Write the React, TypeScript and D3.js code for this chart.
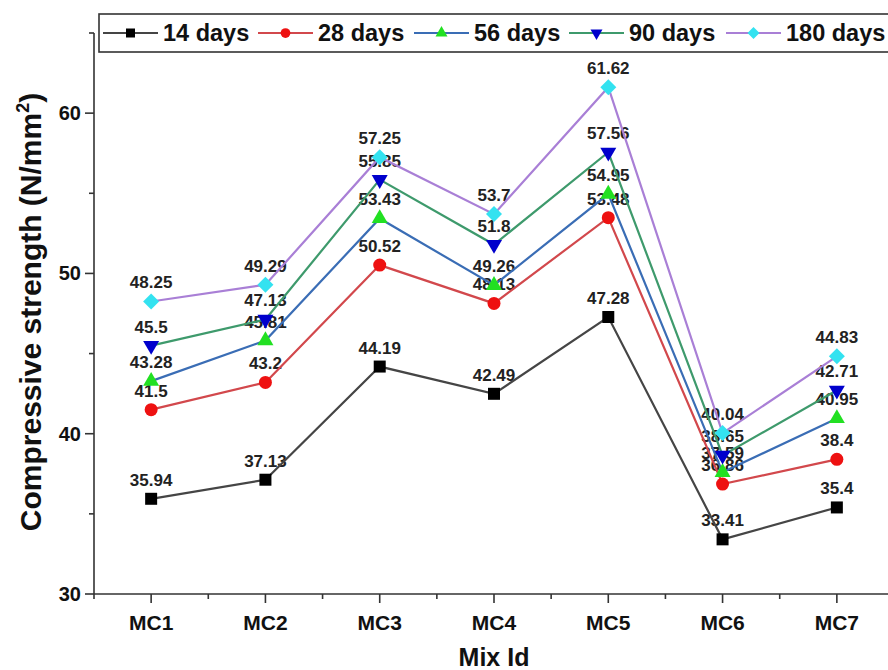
import React from "react";
import * as d3 from "d3";

const categories = ["MC1", "MC2", "MC3", "MC4", "MC5", "MC6", "MC7"];
const days14 = [35.94, 37.13, 44.19, 42.49, 47.28, 33.41, 35.4];
const days28 = [41.5, 43.2, 50.52, 48.13, 53.48, 36.86, 38.4];
const days56 = [43.28, 45.81, 53.43, 49.26, 54.95, 37.59, 40.95];
const days90 = [45.5, 47.13, 55.85, 51.8, 57.56, 38.65, 42.71];
const days180 = [48.25, 49.29, 57.25, 53.7, 61.62, 40.04, 44.83];
const seriesNames = ["14 days", "28 days", "56 days", "90 days", "180 days"];
const yTicks = [30, 40, 50, 60];
const yMinorTicks = [35, 45, 55, 65];

const W = 888;
const H = 670;
const FONT = "'Liberation Sans', Arial, sans-serif";

// line colour / marker colour per series, Origin style
const styles = [
  { line: "#454545", fill: "#000000", shape: "square", size: 12 },
  { line: "#d2484c", fill: "#ee1111", shape: "circle", size: 13 },
  { line: "#3a6db5", fill: "#22e022", shape: "up", size: 16 },
  { line: "#3e9a6c", fill: "#0000cc", shape: "down", size: 16 },
  { line: "#a97fd6", fill: "#33e2f0", shape: "diamond", size: 16 },
];

const symbolPath = (shape: string, s: number) => {
  if (shape === "square") return d3.symbol(d3.symbolSquare, s * s)() as string;
  if (shape === "circle") return d3.symbol(d3.symbolCircle, (Math.PI * s * s) / 4)() as string;
  if (shape === "diamond") return d3.symbol(d3.symbolSquare, (s * s) / 2)() as string;
  return d3.symbol(d3.symbolTriangle, (Math.sqrt(3) / 4) * s * s)() as string;
};
const symbolRotate = (shape: string) =>
  shape === "down" ? 180 : shape === "diamond" ? 45 : 0;

export default function App() {
  const data = [days14, days28, days56, days90, days180];

  const x = d3.scaleBand().domain(categories).range([94, 894]);
  const cx = (c: string) => (x(c) as number) + x.bandwidth() / 2;
  const y = d3.scaleLinear().domain([30, 65]).range([594, 33]);

  const line = d3
    .line<number>()
    .x((_, i) => cx(categories[i]))
    .y((d) => y(d));

  // legend layout
  const legendX = [103, 258, 414, 569, 726];

  return (
    <svg
      width={W}
      height={H}
      style={{ position: "absolute", left: 0, top: 0, background: "#fff" }}
      fontFamily={FONT}
    >
      <rect width={W} height={H} fill="#fff" />

      {/* data labels */}
      {data.map((vals, si) =>
        vals.map((v, i) => (
          <text
            key={`l${si}-${i}`}
            x={cx(categories[i])}
            y={y(v) - 13}
            textAnchor="middle"
            fontSize={17}
            fontWeight="bold"
            fill="#222"
          >
            {v}
          </text>
        ))
      )}

      {/* lines */}
      {data.map((vals, si) => (
        <path
          key={`p${si}`}
          d={line(vals) as string}
          fill="none"
          stroke={styles[si].line}
          strokeWidth={2.2}
        />
      ))}

      {/* markers */}
      {data.map((vals, si) =>
        vals.map((v, i) => (
          <path
            key={`m${si}-${i}`}
            d={symbolPath(styles[si].shape, styles[si].size)}
            transform={`translate(${cx(categories[i])},${y(v)}) rotate(${symbolRotate(styles[si].shape)})`}
            fill={styles[si].fill}
          />
        ))
      )}

      {/* y axis */}
      <line x1={94} x2={94} y1={y(65)} y2={y(30)} stroke="#333" strokeWidth={1.6} />
      {yTicks.map((t) => (
        <g key={`yt${t}`}>
          <line x1={85} x2={94} y1={y(t)} y2={y(t)} stroke="#333" strokeWidth={1.6} />
          <text
            x={81}
            y={y(t)}
            dy="0.35em"
            textAnchor="end"
            fontSize={20}
            fontWeight="bold"
            fill="#111"
          >
            {t}
          </text>
        </g>
      ))}
      {yMinorTicks.map((t) => (
        <line key={`ym${t}`} x1={89} x2={94} y1={y(t)} y2={y(t)} stroke="#333" strokeWidth={1.6} />
      ))}

      {/* x axis */}
      <line x1={94} x2={W} y1={594} y2={594} stroke="#333" strokeWidth={1.6} />
      {categories.map((c) => (
        <g key={`xt${c}`}>
          <line x1={cx(c)} x2={cx(c)} y1={594} y2={603} stroke="#333" strokeWidth={1.6} />
          <line
            x1={x(c) as number}
            x2={x(c) as number}
            y1={594}
            y2={599}
            stroke="#333"
            strokeWidth={1.6}
          />
          <text
            x={cx(c)}
            y={623}
            dy="0.35em"
            textAnchor="middle"
            fontSize={21}
            fontWeight="bold"
            fill="#111"
          >
            {c}
          </text>
        </g>
      ))}

      {/* axis titles */}
      <text
        x={494}
        y={657}
        dy="0.35em"
        textAnchor="middle"
        fontSize={25}
        fontWeight="bold"
        fill="#111"
      >
        Mix Id
      </text>
      <text
        transform="translate(30,312) rotate(-90)"
        dy="0.35em"
        textAnchor="middle"
        fontSize={30}
        fontWeight="bold"
        fill="#111"
      >
        Compressive strength (N/mm<tspan dy="-12" fontSize={18}>2</tspan>
        <tspan dy="12">)</tspan>
      </text>

      {/* legend */}
      <rect x={99} y={14} width={W} height={38} fill="#fff" stroke="#333" strokeWidth={1.6} />
      {seriesNames.map((name, si) => {
        const lx = legendX[si];
        return (
          <g key={`lg${si}`}>
            <line x1={lx} x2={lx + 55} y1={33} y2={33} stroke={styles[si].line} strokeWidth={2.2} />
            <path
              d={symbolPath(styles[si].shape, styles[si].size * 0.75)}
              transform={`translate(${lx + 27.5},33) rotate(${symbolRotate(styles[si].shape)})`}
              fill={styles[si].fill}
            />
            <text
              x={lx + 60}
              y={33}
              dy="0.35em"
              fontSize={23.5}
              fontWeight="bold"
              fill="#111"
            >
              {name}
            </text>
          </g>
        );
      })}
    </svg>
  );
}
